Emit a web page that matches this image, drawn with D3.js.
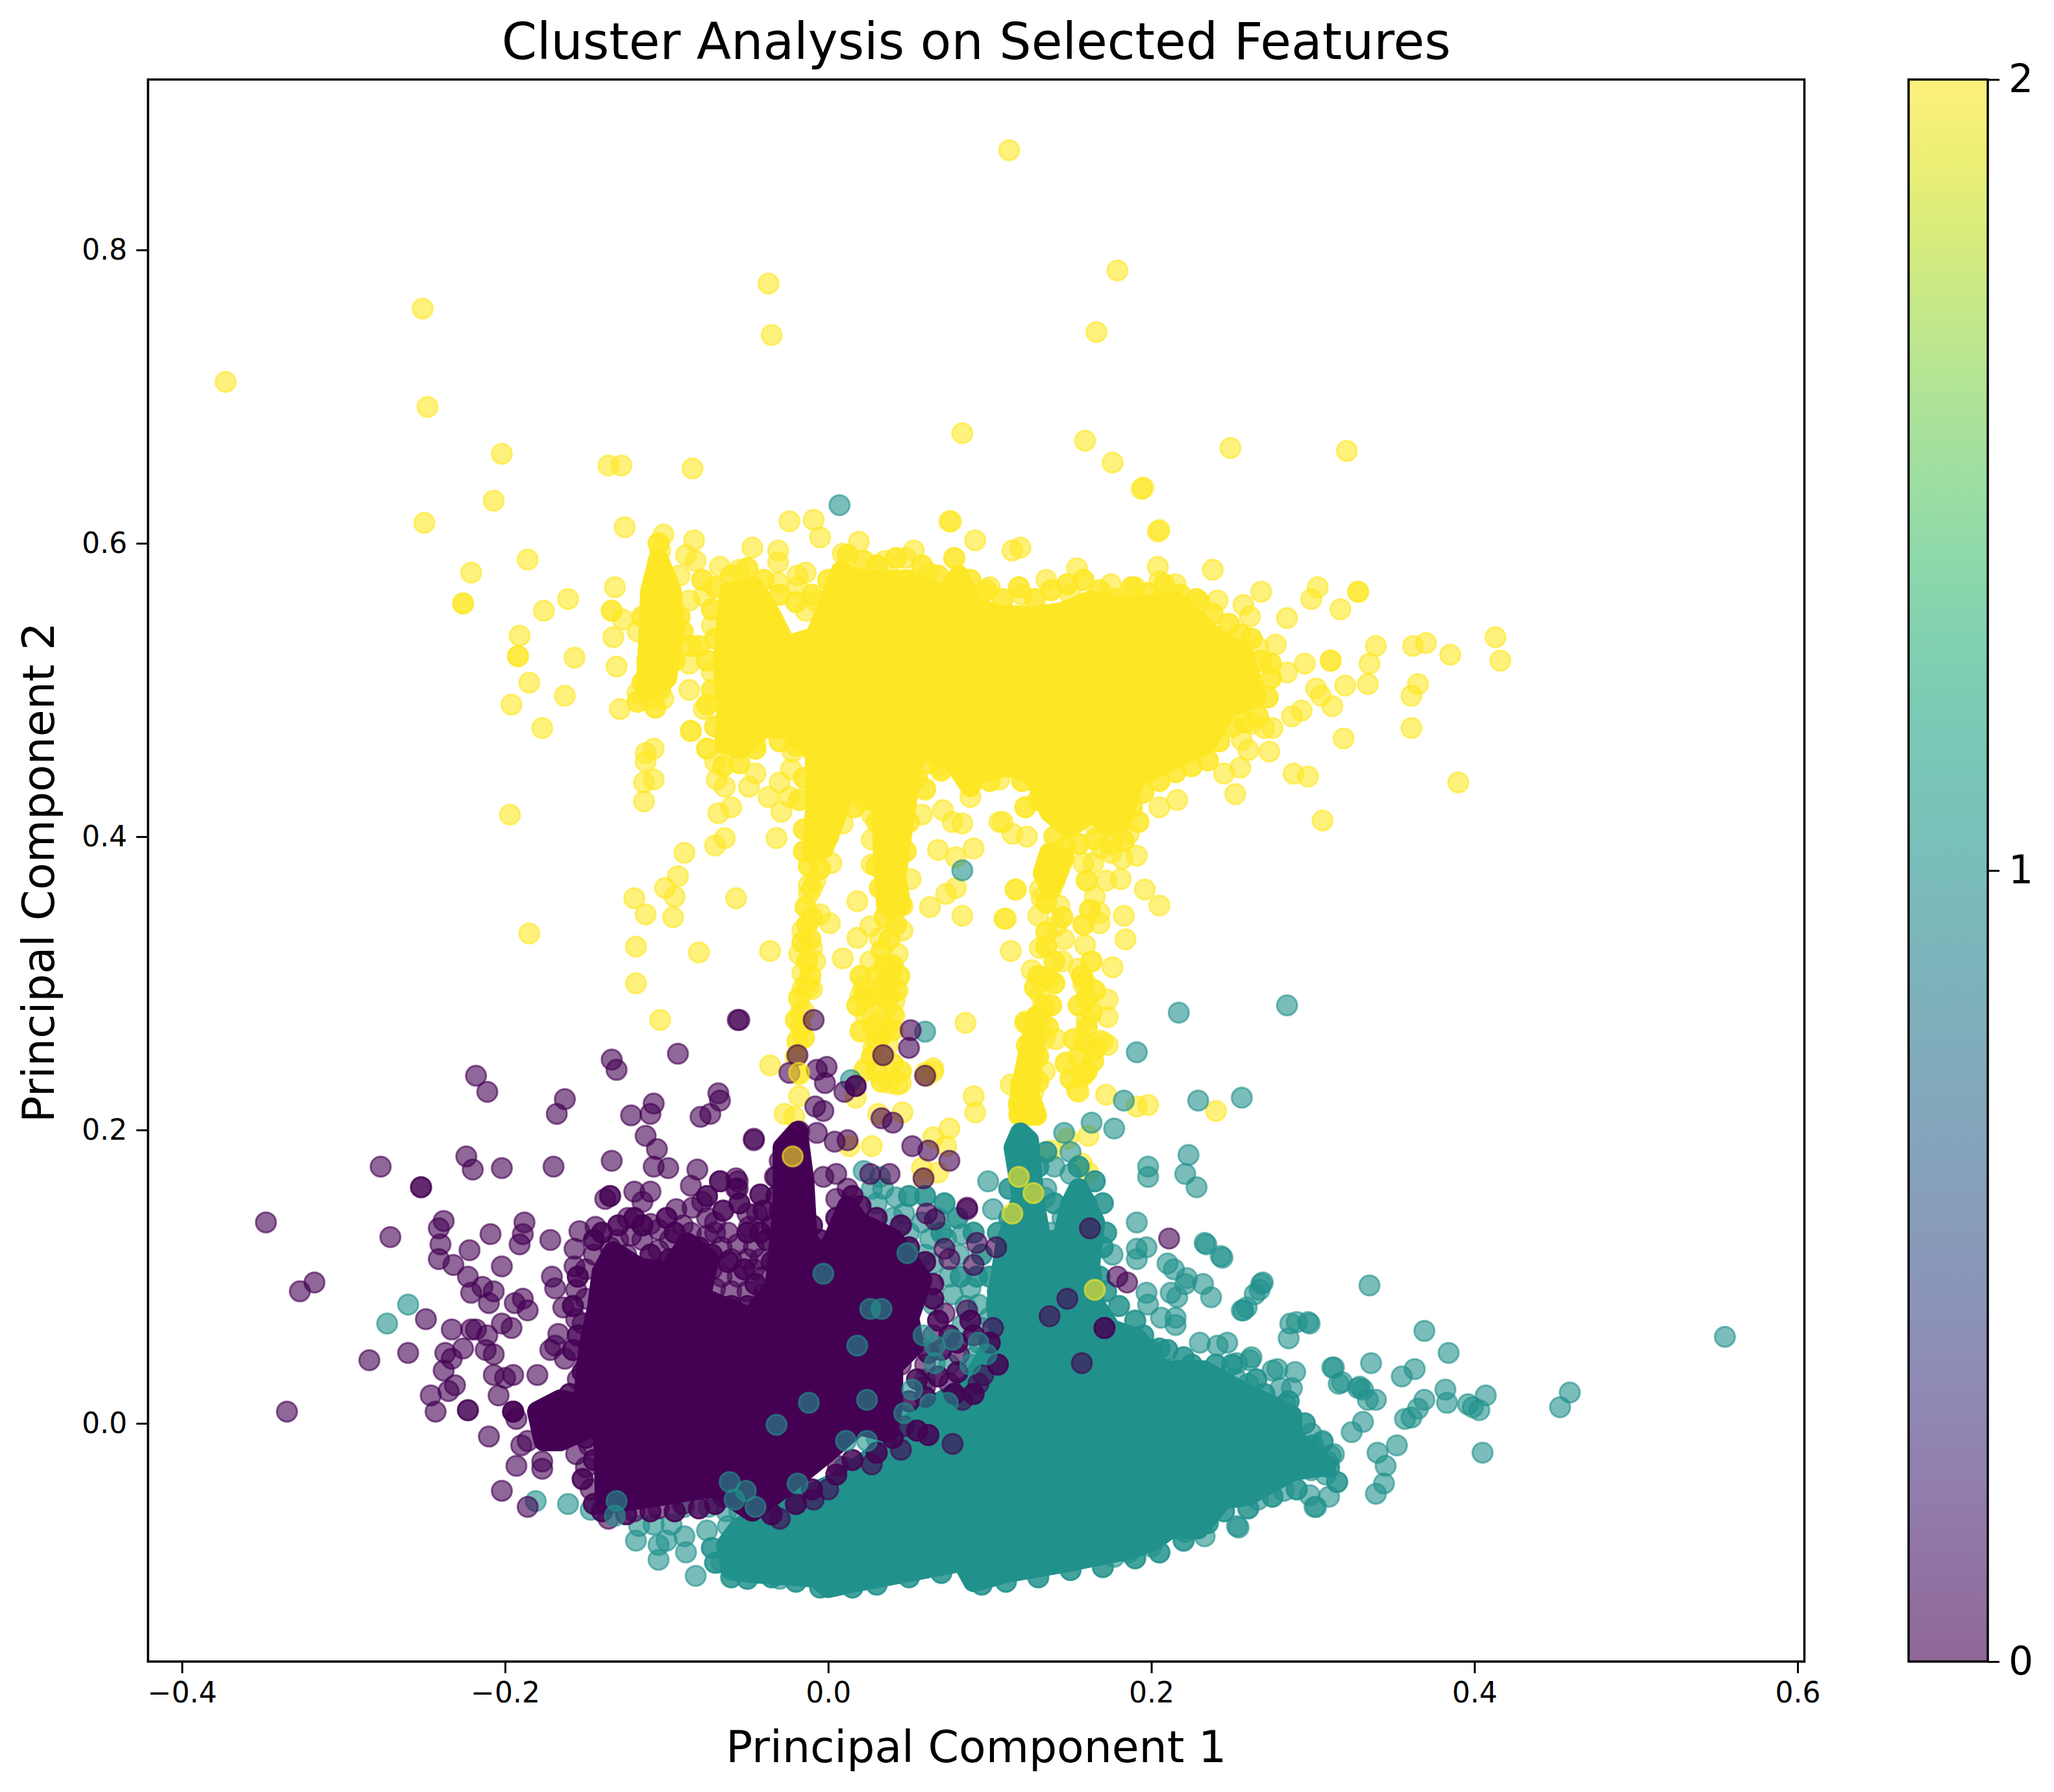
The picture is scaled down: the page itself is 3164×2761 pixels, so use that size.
<!DOCTYPE html>
<html>
<head>
<meta charset="utf-8">
<script src="https://cdn.jsdelivr.net/npm/d3@7"></script>
<style>
html,body{margin:0;padding:0;background:#fff}
svg{display:block}
text{font-family:"DejaVu Sans",sans-serif;fill:#000}
</style>
</head>
<body>
<script>
const xTicks=[-0.4,-0.2,0,0.2,0.4,0.6];
const yTicks=[0,0.2,0.4,0.6,0.8];
const cbTicks=[0,1,2];
const clusterColors=["#440154","#21918c","#fde725"];
const titleText="Cluster Analysis on Selected Features";
const xLabel="Principal Component 1";
const yLabel="Principal Component 2";

// saturated regions: outlines
const purpleCore=[[-0.143,.078],[-0.140,.103],[-0.133,.117],[-0.117,.106],[-0.099,.103],[-0.087,.123],[-0.074,.112],[-0.079,.086],[-0.048,.072],[-0.033,.092],[-0.028,.148],[-0.028,.188],[-0.019,.199],[-0.015,.165],[-0.013,.126],[-0.003,.109],[0.012,.148],[0.019,.137],[0.040,.126],[0.058,.098],[0.050,.072],[0.053,.053],[0.040,.039],[0.040,.013],[0.037,-.006],[0.019,-.001],[-0.001,-.020],[-0.027,-.043],[-0.047,-.060],[-0.0705,-.043],[-0.102,-.049],[-0.138,-.055],[-0.139,-.009],[-0.148,.005],[-0.151,.022],[-0.148,.053]];
const purpleBlob=[[-0.180,.008],[-0.166,.016],[-0.150,.012],[-0.150,-.004],[-0.166,-.012],[-0.176,-.012]];
const tealCore=[[-0.063,-.083],[-0.060,-.100],[-0.045,-.102],[-0.007,-.105],[0,-.112],[0.017,-.108],[0.083,-.094],[0.090,-.108],[0.109,-.102],[0.150,-.094],[0.163,-.091],[0.186,-.086],[0.201,-.080],[0.211,-.072],[0.229,-.072],[0.244,-.052],[0.260,-.049],[0.288,-.032],[0.308,-.029],[0.287,-.009],[0.287,.005],[0.252,.024],[0.232,.036],[0.206,.036],[0.191,.058],[0.175,.064],[0.165,.081],[0.162,.109],[0.165,.137],[0.155,.160],[0.150,.149],[0.145,.126],[0.132,.123],[0.128,.148],[0.124,.193],[0.119,.198],[0.115,.188],[0.120,.154],[0.110,.123],[0.104,.081],[0.106,.061],[0.088,.027],[0.058,.007],[0.037,-.015],[0.006,-.040],[-0.019,-.052],[-0.055,-.071]];
const yellowCore=[[-0.065,.519],[-0.063,.547],[-0.061,.567],[-0.046,.570],[-0.035,.550],[-0.026,.530],[-0.008,.536],[0,.558],[0.008,.581],[0.018,.575],[0.036,.575],[0.051,.575],[0.072,.564],[0.081,.578],[0.090,.556],[0.107,.551],[0.128,.550],[0.145,.553],[0.163,.561],[0.188,.556],[0.214,.561],[0.229,.547],[0.239,.536],[0.257,.525],[0.265,.495],[0.247,.488],[0.234,.463],[0.204,.448],[0.190,.440],[0.181,.409],[0.173,.408],[0.163,.417],[0.149,.406],[0.137,.417],[0.127,.443],[0.111,.448],[0.091,.443],[0.088,.434],[0.078,.451],[0.058,.460],[0.054,.457],[0.050,.434],[0.046,.406],[0.042,.372],[0.045,.353],[0.036,.353],[0.034,.392],[0.033,.420],[0.020,.432],[0.013,.446],[0.006,.417],[-0.003,.392],[-0.010,.389],[-0.008,.417],[-0.008,.457],[-0.026,.474],[-0.041,.474],[-0.054,.460],[-0.064,.463],[-0.063,.485]];
const yellowTower=[[-0.105,.589],[-0.097,.567],[-0.095,.542],[-0.100,.508],[-0.113,.499],[-0.111,.536],[-0.110,.567]];
const yellowColumnA=[[0.137,.389],[0.146,.386],[0.138,.364],[0.133,.375]];
const yellowColumnB=[[0.129,.278],[0.128,.256],[0.124,.225],[0.129,.210],[0.118,.210],[0.119,.227]];

const purplePoints=[[-0.348,.137],[-0.318,.096],[-0.327,.090],[-0.335,.008],[-0.277,.175],[-0.271,.127],[-0.252,.161],[-0.252,.161],[-0.249,.071],[-0.284,.043],[-0.260,.048],[-0.218,.237],[-0.211,.226],[-0.224,.182],[-0.220,.173],[-0.202,.174],[-0.170,.175],[-0.163,.221],[-0.168,.211],[-0.134,.248],[-0.131,.241],[-0.093,.252],[-0.056,.275],[-0.108,.218],[-0.110,.211],[-0.122,.210],[-0.113,.196],[-0.106,.187],[-0.134,.179],[-0.108,.175],[-0.099,.174],[-0.081,.173],[-0.068,.225],[-0.067,.220],[-0.073,.211],[-0.079,.209],[-0.046,.193],[-0.085,.162],[-0.067,.165],[-0.057,.167],[-0.057,.160],[-0.042,.156],[-0.033,.168],[-0.135,.155],[-0.135,.155],[-0.138,.153],[-0.120,.158],[-0.110,.158],[-0.115,.151],[-0.094,.146],[-0.078,.151],[-0.084,.147],[-0.124,.140],[-0.110,.136],[-0.105,.132],[-0.144,.134],[-0.154,.131],[-0.157,.119],[-0.157,.107],[-0.171,.100],[-0.169,.092],[-0.156,.091],[-0.164,.079],[-0.156,.071],[-0.172,.125],[-0.188,.137],[-0.189,.129],[-0.191,.122],[-0.209,.129],[-0.238,.138],[-0.241,.133],[-0.240,.122],[-0.241,.112],[-0.232,.108],[-0.222,.118],[-0.202,.107],[-0.223,.100],[-0.221,.089],[-0.214,.093],[-0.207,.090],[-0.210,.082],[-0.189,.085],[-0.194,.082],[-0.186,.077],[-0.202,.068],[-0.196,.065],[-0.233,.064],[-0.221,.064],[-0.218,.064],[-0.211,.060],[-0.237,.048],[-0.226,.051],[-0.233,.044],[-0.212,.050],[-0.207,.047],[-0.238,.036],[-0.235,.022],[-0.231,.026],[-0.246,.019],[-0.243,.008],[-0.223,.009],[-0.223,.009],[-0.195,.008],[-0.195,.008],[-0.195,.008],[-0.193,.003],[-0.207,.033],[-0.200,.031],[-0.195,.033],[-0.204,.019],[-0.180,.033],[-0.172,.050],[-0.167,.061],[-0.169,.053],[-0.163,.044],[-0.210,-.009],[-0.190,-.015],[-0.186,-.012],[-0.193,-.029],[-0.177,-.026],[-0.177,-.031],[-0.156,-.021],[-0.202,-.046],[-0.186,-.057],[-0.136,-.065],
[-0.130,.125],[-0.122,.128],[-0.115,.125],[-0.105,.118],[-0.098,.125],[-0.090,.135],[-0.085,.130],[-0.075,.140],[-0.070,.130],[-0.125,.115],[-0.135,.120],[-0.145,.115],[-0.150,.105],[-0.150,.085],[-0.152,.068],[-0.150,.040],[-0.155,.030],[-0.143,.000],[-0.148,-.015],[-0.150,-.030],[-0.147,-.045],[-0.120,-.060],[-0.105,-.058],[-0.090,-.055],[-0.065,-.050],
[-0.075,.128],[-0.066,.120],[-0.056,.122],[-0.046,.105],[-0.056,.100],[-0.066,.100],[-0.040,.100],[-0.072,.105],[-0.060,.090],[-0.050,.090],[-0.040,.088],[-0.070,.092],[-0.070,.137],
[-0.055,.275],[-0.009,.275],[0.051,.268],[0.050,.256],[0.034,.251],[-0.019,.251],[-0.024,.239],[-0.001,.243],[-0.007,.241],[-0.002,.232],[0.017,.230],[0.017,.230],[0.010,.226],[0.060,.237],[-0.008,.216],[-0.003,.213],[0.033,.208],[0.040,.205],[-0.046,.194],[-0.018,.199],[-0.007,.198],[0.004,.192],[0.012,.193],[0.052,.189],[0.062,.186],[0.075,.179],[0.059,.167],[-0.023,.182],[-0.030,.179],[-0.067,.165],[-0.056,.165],[-0.056,.160],[-0.042,.156],[-0.032,.168],[-0.003,.168],[0.005,.170],[0.026,.170],[0.038,.170],[0.012,.160],[0.005,.153],[0.012,.146],[0.012,.146],[-0.050,.143],[-0.044,.143],[-0.049,.134],[-0.062,.130],[-0.046,.120],[-0.060,.112],[-0.050,.112],[-0.042,.112],
[0.072,.075],[0.086,.077],[0.102,.065],[0.077,-.014],[0.045,-.018],[0.027,-.028],[0.006,-.029],[-0.009,-.052],[0.047,-.002],[0.083,.016],[0.093,.027],[0.075,.027],[0.081,.047],[0.096,.033],[0.137,.073],[0.148,.085],[0.171,.065],[0.171,.065],[0.185,.096],[0.179,.100],[0.162,.133],[0.157,.041],[0.211,.126],[0.086,.147],[0.086,.146],[0.066,.139],[0.061,.143],[0.092,.123],[0.072,.119],[0.090,.108],[0.075,.112],[0.104,.120],[0.045,.040],[0.060,.040],[0.060,.025],[0.045,.070],[0.065,.060],[0.000,-.045],[-0.030,-.065]];
const purpleFringe=[[-0.145,.125],[-0.14,.13],[-0.13,.135],[-0.12,.14],[-0.115,.135],[-0.10,.14],[-0.095,.13],[-0.085,.115],[-0.08,.12],[-0.072,.115],[-0.062,.11],[-0.052,.105],[-0.045,.095],[-0.042,.13],[-0.038,.125],[-0.035,.11],[-0.05,.13],[-0.075,.155],[-0.065,.145],[-0.055,.15],[-0.04,.145],[-0.035,.135],[-0.032,.155],[-0.03,.145],[-0.13,.105],[-0.11,.115],[-0.098,.112],[-0.085,.10],[-0.08,.095],[-0.07,.08],[-0.06,.08],[-0.05,.08],
[-0.155,.10],[-0.158,.08],[-0.155,.06],[-0.158,.05],[-0.152,.035],[-0.16,.02],[-0.155,.0],[-0.15,-.01],[-0.145,-.025],[-0.152,-.038],[-0.145,-.055],[-0.14,-.06],[-0.125,-.062],[-0.11,-.06],[-0.095,-.06],[-0.08,-.058],[-0.07,-.055],
[-0.01,.135],[-0.005,.125],[0.0,.12],[0.005,.14],[0.01,.13],[0.015,.155],[0.02,.148],[0.025,.13],[0.03,.14],[0.045,.135],[0.05,.12],[0.06,.11],[0.065,.095],[0.065,.085],[0.068,.07],[0.075,.06],[0.08,.055],[0.088,.07],[0.09,.06],[0.07,.05],[0.062,.048],[0.055,.03],[0.05,.015],[0.06,.018],[0.068,.032],[0.08,.035],[0.09,.02],[0.10,.055],[0.078,.02],[0.04,-.01],[0.03,-.02],[0.015,-.025],[0.005,-.035],[-0.01,-.045],[-0.02,-.055],[-0.035,-.062],[0.055,-.005],[0.062,-.008],[0.105,.04]];

const tealPoints=[[0.284,.285],[0.217,.280],[0.191,.253],[0.256,.222],[0.229,.220],[0.183,.220],[0.163,.205],[0.177,.201],[0.223,.183],[0.198,.175],[0.198,.168],[0.221,.170],[0.228,.161],[0.146,.198],[0.150,.185],[0.099,.165],[0.134,.154],[0.102,.146],[0.083,.129],[0.191,.137],[0.233,.123],[0.244,.113],[0.176,.115],[0.197,.120],[0.191,.119],[0.191,.112],[0.210,.109],[0.214,.105],[0.221,.095],[0.212,.089],[0.216,.086],[0.232,.095],[0.237,.086],[0.269,.096],[0.267,.091],[0.259,.079],[0.257,.077],[0.198,.081],[0.197,.089],[0.206,.072],[0.215,.072],[0.215,.067],[0.290,.069],[0.297,.069],[0.285,.058],[0.230,.055],[0.247,.055],[0.241,.053],[0.205,.051],[0.205,.051],[0.262,.045],[0.261,.043],[0.253,.041],[0.275,.036],[0.289,.035],[0.312,.038],[0.316,.027],[0.328,.024],[0.252,.031],[0.260,.027],[0.280,.024],[0.287,.024],[0.255,.019],[0.260,.013],[0.283,.013],[0.275,.005],[0.324,-.006],[0.299,-.007],[0.306,-.012],[0.311,-.022],[0.308,-.035],[0.299,-.032],[0.298,-.049],[0.310,-.050],[0.301,-.057],[0.282,-.046],[0.266,-.052],[0.253,-.070],[0.233,-.077],[0.221,-.074],[0.200,-.084],[0.177,-.091],[0.186,-.088],[-0.030,-.106],
[0.555,.059],[0.459,.021],[0.453,.011],[0.407,.019],[0.405,-.020],[0.403,.009],[0.399,.011],[0.396,.013],[0.384,.048],[0.369,.063],[0.382,.023],[0.383,.014],[0.369,.016],[0.363,.037],[0.355,.032],[0.336,.041],[0.335,.094],[0.313,.038],[0.318,.028],[0.329,.025],[0.331,.023],[0.339,.016],[0.365,.010],[0.361,.004],[0.357,.003],[0.352,-.015],[0.340,-.020],[0.345,-.029],[0.344,-.041],[0.339,-.048],[0.334,.016],[0.331,.001],[0.302,-.057],[0.309,-.026],[0.306,-.013],[0.313,-.021],[0.298,.068],[0.286,.068],[0.278,.037],[0.268,.095],[0.264,.088],[0.256,.077],[0.243,.114],[0.234,.122],[0.222,.099],[0.254,-.071],
[-0.260,.081],[-0.273,.068],[-0.181,-.053],[-0.161,-.055],[-0.147,-.059],[-0.117,-.070],[-0.119,-.080],[-0.108,-.069],[-0.105,-.083],[-0.105,-.093],[-0.089,-.077],[-0.088,-.088],[-0.097,-.069],[-0.100,-.080],[-0.075,-.073],[-0.082,-.104],[-0.089,-.057],[-0.074,-.057],[-0.079,-.040],[-0.062,-.070],[-0.058,-.085],[-0.066,-.095],[-0.063,-.060],[-0.055,-.060],[-0.050,-.068],
[0.022,.172],[0.032,.168],[0.027,.160],[0.034,.160],[0.042,.154],[0.047,.143],[0.058,.137],[0.068,.140],[0.063,.126],[0.073,.126],[0.081,.115],[0.065,.109],[0.050,.115],[0.088,.092],[0.077,.088],[0.093,.081],[0.100,.072],[0.065,.081],[0.083,.067],[0.030,.150],[0.040,.140],[0.050,.130],[0.060,.115],[0.075,.100],[0.085,.080],[0.095,.065],[0.060,.030],[0.075,.040],[0.090,.045],[0.050,.005],[0.065,.000],[0.030,-.010],[0.010,-.030],
[0.135,.160],[0.138,.130],[0.145,.140],[0.150,.170],[0.160,.150],[0.140,.175],[0.007,.626],[0.083,.377],[0.060,.267],[0.014,.234]];
const tealFringe=[[0.05,.155],[0.06,.155],[0.072,.15],[0.08,.14],[0.09,.13],[0.095,.115],[0.1,.10],[0.105,.09],[0.092,.1],[0.082,.10],[0.07,.13],[0.105,.13],[0.112,.16],[0.112,.14],[0.135,.185],[0.13,.175],[0.14,.15],[0.155,.175],[0.165,.165],[0.17,.15],[0.172,.13],[0.17,.12],[0.168,.10],[0.172,.09],[0.18,.08],[0.19,.07],[0.195,.06],[0.2,.05],[0.21,.05],[0.22,.045],[0.225,.04],[0.24,.04],[0.25,.04],[0.265,.03],[0.27,.02],[0.285,.015],[0.295,.0],[0.30,-.015],[0.31,-.03],[0.315,-.04],[0.29,-.045],[0.275,-.05],[0.26,-.058],[0.245,-.06],[0.235,-.068],[0.22,-.08],[0.205,-.088],[0.19,-.092],[0.17,-.098],[0.15,-.1],[0.13,-.105],[0.11,-.108],[0.095,-.11],[0.07,-.102],[0.05,-.105],[0.03,-.11],[0.015,-.112],[-0.005,-.112],[-0.02,-.108],[-0.035,-.105],[-0.05,-.106],[-0.06,-.105],[-0.07,-.095],[-0.072,-.085]];

const tealOverPoints=[[0.026,.078],[0.033,.078],[0.018,.053],[-0.003,.102],[0.024,.016],[-0.012,.014],[-0.032,-.001],[0.049,.116],[0.066,.041],[0.066,.053],[0.077,.057],[0.059,.060],[0.052,.023],[0.047,.007],[0.074,.014],[0.088,.040],[0.093,.055],[0.098,.047],[0.063,.013],[0.024,-.012],[0.011,-.012],[-0.019,-.041],[-0.045,-.057],[-0.058,-.052],[-0.131,-.053],[-0.132,-.063],[-0.061,-.040],[-0.051,-.046]];

const yellowPoints=[[0.112,.868],[0.179,.786],[-0.037,.777],[-0.035,.742],[0.166,.744],[-0.251,.760],[-0.248,.693],[-0.373,.710],[0.083,.675],[0.159,.670],[0.249,.665],[0.321,.663],[0.176,.655],[0.195,.638],[-0.202,.661],[-0.207,.629],[-0.250,.614],[-0.136,.653],[-0.128,.653],[-0.084,.651],[0.205,.609],
[-0.126,.611],[-0.102,.606],[-0.104,.595],[-0.083,.602],[-0.047,.597],[-0.024,.615],[-0.009,.616],[-0.005,.604],[0.019,.601],[0.009,.593],[-0.031,.595],[-0.031,.587],[0.053,.595],[0.075,.615],[0.091,.602],[0.114,.595],[0.119,.597],[-0.186,.589],[-0.221,.580],[-0.226,.559],[-0.226,.559],[-0.161,.562],[-0.176,.554],[-0.132,.570],[-0.134,.554],[-0.134,.554],[-0.127,.548],[-0.191,.537],[-0.192,.523],[-0.192,.523],[-0.157,.522],[-0.133,.536],[-0.131,.516],[-0.118,.540],[-0.185,.505],[-0.163,.496],[-0.196,.490],[-0.177,.474],[-0.129,.487],[-0.086,.500],[-0.086,.518],[-0.077,.487],[-0.118,.498],[-0.110,.494],[-0.102,.494],[-0.085,.472],[-0.085,.472],[-0.088,.592],[-0.082,.588],[-0.086,.561],[-0.077,.564],[-0.092,.578],[-0.072,.544],[-0.067,.584],[-0.055,.582],[-0.019,.578],[-0.014,.580],[-0.019,.570],[-0.031,.573],[-0.008,.561],[-0.014,.554],[-0.072,.512],[-0.045,.464],[-0.022,.458],[-0.023,.446],[-0.030,.437],[-0.070,.451],[-0.045,.443],[-0.069,.439],[-0.064,.434],[-0.049,.434],[-0.037,.427],[-0.024,.427],[-0.060,.420],[-0.068,.416],[-0.029,.417],[-0.108,.460],[-0.113,.457],[-0.113,.451],[-0.108,.439],[-0.114,.437],[-0.114,.424],[-0.197,.415],[-0.032,.399],[-0.064,.399],[-0.070,.394],[-0.089,.389],[-0.093,.373],[-0.101,.365],[-0.095,.359],[-0.120,.358],[-0.113,.347],[-0.096,.345],[-0.057,.358],[-0.185,.334],[-0.119,.325],[-0.119,.300],[-0.080,.321],[-0.036,.322],[-0.104,.275],
[0.002,.382],[0.018,.356],[0.051,.371],[0.009,.409],[0.027,.415],[0.058,.415],[0.060,.432],[0.069,.448],[0.088,.427],[0.071,.418],[0.077,.410],[0.083,.409],[0.068,.391],[0.090,.392],[0.079,.386],[0.079,.365],[0.073,.361],[0.063,.352],[0.083,.346],[0.106,.410],[0.114,.402],[0.123,.400],[0.122,.420],[0.116,.364],[0.109,.344],[0.113,.322],[0.085,.273],[0.122,.273],
[-0.012,.367],[-0.010,.365],[-0.012,.361],[-0.008,.370],[0.001,.341],[-0.005,.347],[-0.016,.336],[-0.018,.320],[-0.010,.324],[-0.008,.315],[-0.016,.307],[-0.016,.296],[-0.010,.296],[-0.017,.281],[-0.019,.261],[-0.018,.238],[-0.036,.244],
[0.027,.398],[0.027,.381],[0.040,.350],[0.046,.353],[0.026,.339],[0.018,.331],[0.032,.331],[0.046,.336],[0.009,.317],[0.026,.315],[0.043,.320],[0.036,.303],[0.043,.295],[0.022,.293],[0.036,.282],[0.023,.279],[0.040,.279],[0.020,.267],[0.033,.265],[0.033,.251],[0.022,.240],[0.043,.231],[0.033,.233],[0.065,.240],[0.061,.237],[0.090,.223],[0.123,.257],[0.113,.231],[0.036,.295],[0.038,.300],[0.036,.290],[0.041,.288],[0.034,.298],[0.039,.308],
[-0.014,.299],[-0.012,.297],[-0.015,.281],[-0.019,.260],[-0.018,.223],[-0.027,.211],[-0.021,.209],[0.036,.298],[0.037,.289],[0.032,.292],[0.042,.295],[0.022,.298],[0.020,.292],[0.026,.281],[0.032,.275],[0.041,.278],[0.020,.268],[0.033,.264],[0.028,.256],[0.037,.258],[0.023,.242],[0.033,.233],[0.038,.232],[0.045,.232],[0.017,.222],[0.031,.211],[0.046,.212],[0.027,.189],[0.013,.189],[0.065,.242],[0.060,.239],[0.091,.212],[0.075,.201],[0.065,.195],[0.073,.189],[0.058,.174],[0.068,.171],[0.059,.167],
[0.134,.304],[0.159,.301],[0.160,.289],[0.173,.289],[0.173,.277],[0.160,.275],[0.123,.273],[0.134,.284],[0.147,.246],[0.159,.260],[0.170,.260],[0.157,.237],[0.164,.247],[0.155,.226],[0.172,.224],[0.191,.216],[0.198,.217],[0.240,.213],[0.138,.186],[0.161,.196],[0.148,.194],[0.157,.177],[0.161,.171],
[0.137,.381],[0.158,.382],[0.164,.382],[0.169,.392],[0.175,.389],[0.182,.385],[0.191,.387],[0.172,.370],[0.181,.371],[0.165,.359],[0.168,.348],[0.168,.341],[0.183,.346],[0.184,.330],[0.196,.364],[0.205,.353],[0.159,.326],[0.143,.353],[0.130,.346],[0.116,.364],[0.131,.364],[0.132,.358],[0.110,.344],[0.141,.339],[0.146,.330],[0.131,.324],[0.126,.309],[0.145,.315],[0.137,.303],[0.155,.310],[0.176,.311],[0.158,.299],[0.160,.291],[0.131,.293],[0.133,.285],[0.122,.274],[0.132,.274],[0.123,.258],[0.134,.262],[0.141,.262],[0.158,.260],[0.168,.261],[0.173,.258],[0.147,.245],[0.164,.247],[0.158,.237],[0.154,.227],[0.134,.240],[0.124,.234],[0.119,.231],[0.127,.226],
[0.076,.615],[0.154,.583],[0.204,.584],[0.205,.574],[0.204,.608],[0.194,.637],[0.238,.582],[0.268,.567],[0.303,.570],[0.299,.562],[0.317,.555],[0.328,.567],[0.328,.567],[0.284,.549],[0.241,.561],[0.257,.558],[0.261,.550],[0.277,.531],[0.266,.529],[0.274,.518],[0.274,.518],[0.284,.512],[0.295,.518],[0.311,.520],[0.311,.520],[0.339,.530],[0.335,.518],[0.334,.504],[0.320,.503],[0.362,.530],[0.370,.532],[0.385,.524],[0.413,.536],[0.416,.520],[0.365,.504],[0.361,.496],[0.361,.474],[0.390,.437],[0.319,.467],[0.302,.501],[0.305,.496],[0.312,.489],[0.293,.486],[0.287,.482],[0.262,.477],[0.270,.474],[0.275,.474],[0.256,.466],[0.260,.459],[0.273,.458],[0.255,.447],[0.245,.443],[0.288,.443],[0.297,.441],[0.252,.429],[0.306,.411],[0.216,.425],[0.205,.420],[0.122,.420],[0.108,.410],[0.165,.408],[0.186,.402],[0.106,.439],[0.060,.433],[0.100,.570],[0.120,.565],[0.135,.575],[0.150,.565],[0.175,.572],[0.190,.570],[0.215,.572],[0.230,.560],[0.048,.590],[0.035,.588],[0.062,.580],[0.095,.565]];
const yellowFringe=[[-0.06,.578],[-0.05,.583],[-0.04,.575],[-0.03,.565],[-0.02,.56],[-0.01,.565],[0,.575],[0.012,.592],[0.022,.588],[0.03,.585],[0.042,.590],[0.058,.585],[0.068,.578],[0.078,.590],[0.088,.575],[0.098,.568],[0.108,.562],[0.118,.570],[0.128,.562],[0.138,.568],[0.148,.572],[0.158,.575],[0.168,.568],[0.178,.562],[0.188,.570],[0.198,.566],[0.208,.572],[0.218,.565],[0.228,.562],[0.238,.552],[0.248,.545],[0.255,.538],[0.262,.535],[0.268,.520],[0.274,.508],[0.272,.495],[0.266,.482],[0.258,.478],[0.25,.475],[0.242,.465],[0.235,.452],[0.225,.448],[0.215,.444],[0.205,.438],[0.195,.43],[0.188,.42],[0.192,.41],[0.183,.397],[0.175,.395],[0.165,.398],[0.155,.395],[0.147,.393],[0.14,.40],[0.13,.425],[0.12,.438],[0.10,.438],[0.085,.45],[0.07,.445],[0.062,.45],
[-0.07,.57],[-0.072,.555],[-0.07,.535],[-0.075,.52],[-0.072,.50],[-0.075,.49],[-0.07,.475],[-0.075,.46],[-0.065,.448],[-0.055,.45],[-0.045,.46],[-0.03,.465],[-0.02,.462],[-0.015,.44],[-0.018,.425],[-0.015,.405],[-0.015,.39],[-0.012,.38],[-0.005,.378],[0.0,.40],[0.01,.43],[0.016,.42],[0.022,.425],[0.03,.41],[0.03,.38],[0.032,.365],[0.048,.39],[0.05,.41],[0.055,.44],
[-0.115,.55],[-0.112,.52],[-0.104,.5],[-0.095,.52],[-0.092,.55],[-0.10,.575],[-0.105,.6],[-0.115,.505],[-0.107,.488],[-0.118,.492],[-0.09,.54],[-0.08,.53],[-0.078,.575],[-0.085,.53],
[-0.014,.352],[-0.01,.345],[-0.013,.34],[-0.011,.33],[-0.016,.328],[-0.013,.315],[-0.011,.305],[-0.018,.29],[-0.02,.275],[-0.017,.27],[-0.015,.263],[-0.02,.25],
[0.035,.345],[0.042,.34],[0.038,.33],[0.033,.322],[0.04,.312],[0.035,.312],[0.044,.305],[0.03,.305],[0.036,.27],[0.03,.26],[0.04,.268],[0.027,.25],[0.04,.245],[0.03,.24],[0.045,.24],[0.02,.305],[0.024,.29],[0.018,.285],[0.028,.27],
[0.14,.37],[0.135,.355],[0.145,.345],[0.135,.335],[0.135,.325],[0.14,.315],[0.13,.305],[0.14,.30],[0.128,.297],[0.138,.285],[0.128,.268],[0.136,.27],[0.125,.245],[0.13,.25],[0.122,.24],[0.13,.233],[0.118,.218],
[0.16,.37],[0.162,.35],[0.158,.34],[0.163,.315],[0.157,.305],[0.165,.295],[0.155,.285],[0.163,.28],[0.16,.27],[0.152,.262],[0.165,.255],[0.155,.25],[0.16,.24],[0.15,.235]];

const yellowOverPoints=[[-0.022,.182],[-0.018,.239],[0.118,.168],[0.127,.157],[0.114,.143],[0.165,.091]];

const W=3164,H=2761;
const plotLeft=228,plotRight=2779.5,plotTop=122.5,plotBottom=2560;
const cbLeft=2940,cbRight=3062;
const R=15.5,SW=3,CORE_SW=32;

const x=d3.scaleLinear().domain([-0.421,0.6042]).range([plotLeft,plotRight]);
const y=d3.scaleLinear().domain([-0.1624,0.9162]).range([plotBottom,plotTop]);
const cb=d3.scaleLinear().domain([0,2]).range([plotBottom,plotTop]);

const svg=d3.select("body").append("svg").attr("width",W).attr("height",H).attr("viewBox",`0 0 ${W} ${H}`);
svg.append("rect").attr("width",W).attr("height",H).attr("fill","#fff");

const defs=svg.append("defs");
defs.append("clipPath").attr("id","plotClip").append("rect").attr("x",plotLeft).attr("y",plotTop).attr("width",plotRight-plotLeft).attr("height",plotBottom-plotTop);
const grad=defs.append("linearGradient").attr("id","cbGrad").attr("x1",0).attr("x2",0).attr("y1",1).attr("y2",0);
d3.range(0,1.0001,0.05).forEach(t=>grad.append("stop").attr("offset",t).attr("stop-color",d3.interpolateViridis(t)).attr("stop-opacity",0.6));

const plot=svg.append("g").attr("clip-path","url(#plotClip)");
const outline=d3.line().x(d=>x(d[0])).y(d=>y(d[1])).curve(d3.curveLinearClosed);

function drawCore(data,color){
  plot.append("path").attr("d",outline(data)).attr("fill",color).attr("stroke",color)
    .attr("stroke-width",CORE_SW).attr("stroke-linejoin","round");
}
function drawPoints(data,color){
  plot.append("g").selectAll("circle").data(data).join("circle")
    .attr("cx",d=>x(d[0])).attr("cy",d=>y(d[1])).attr("r",R)
    .attr("fill",color).attr("fill-opacity",0.6)
    .attr("stroke",color).attr("stroke-opacity",0.6).attr("stroke-width",SW);
}
const [cP,cT,cY]=clusterColors;
drawPoints(yellowPoints,cY);
drawPoints(yellowFringe,cY);
drawPoints(yellowFringe,cY);
drawCore(yellowCore,cY);drawCore(yellowTower,cY);drawCore(yellowColumnA,cY);drawCore(yellowColumnB,cY);
drawPoints(tealPoints,cT);
drawPoints(tealFringe,cT);
drawPoints(tealFringe,cT);
drawCore(tealCore,cT);
drawPoints(purplePoints,cP);
drawPoints(purpleFringe,cP);
drawPoints(purpleFringe,cP);
drawCore(purpleCore,cP);drawCore(purpleBlob,cP);
drawPoints(tealOverPoints,cT);
drawPoints(yellowOverPoints,cY);

function styleAxis(g,fs){
  g.selectAll("path.domain").remove();
  g.selectAll(".tick line").attr("stroke","#000").attr("stroke-width",3);
  g.selectAll(".tick text").attr("font-size",fs).attr("font-family","DejaVu Sans").attr("fill","#000");
}
const fmt=d3.format(".1f");
const gx=svg.append("g").attr("transform",`translate(0,${plotBottom})`)
  .call(d3.axisBottom(x).tickValues(xTicks).tickSize(18).tickPadding(14).tickFormat(fmt));
styleAxis(gx,44);
const gy=svg.append("g").attr("transform",`translate(${plotLeft},0)`)
  .call(d3.axisLeft(y).tickValues(yTicks).tickSize(18).tickPadding(14).tickFormat(fmt));
styleAxis(gy,44);

svg.append("rect").attr("x",plotLeft).attr("y",plotTop).attr("width",plotRight-plotLeft).attr("height",plotBottom-plotTop)
  .attr("fill","none").attr("stroke","#000").attr("stroke-width",3.5);

svg.append("rect").attr("x",cbLeft).attr("y",plotTop).attr("width",cbRight-cbLeft).attr("height",plotBottom-plotTop)
  .attr("fill","url(#cbGrad)").attr("stroke","#000").attr("stroke-width",3.5);
const gc=svg.append("g").attr("transform",`translate(${cbRight},0)`)
  .call(d3.axisRight(cb).tickValues(cbTicks).tickSize(18).tickPadding(14).tickFormat(d3.format("d")));
styleAxis(gc,60);

svg.append("text").attr("x",(plotLeft+plotRight)/2).attr("y",91).attr("text-anchor","middle").attr("font-size",77.7).text(titleText);
svg.append("text").attr("x",(plotLeft+plotRight)/2).attr("y",2715).attr("text-anchor","middle").attr("font-size",68).text(xLabel);
svg.append("text").attr("transform",`translate(83,${(plotTop+plotBottom)/2+3}) rotate(-90)`).attr("text-anchor","middle").attr("font-size",68).text(yLabel);
</script>
</body>
</html>
